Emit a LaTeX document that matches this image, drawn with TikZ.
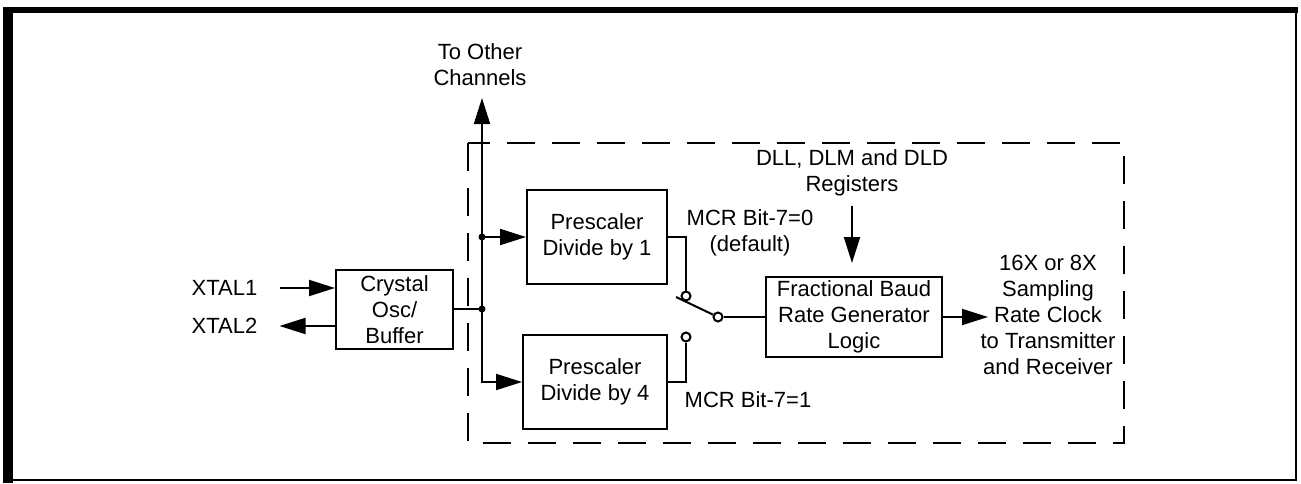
\documentclass[tikz,border=0pt]{standalone}
\usepackage{fontspec}
\setmainfont{Liberation Sans}
\usetikzlibrary{arrows.meta}
\begin{document}
\begin{tikzpicture}[x=1pt,y=-1pt,font=\fontsize{22}{26}\selectfont]
\tikzstyle{txt} = [align=center,inner sep=0pt];
\tikzstyle{blk} = [draw,line width=2pt,align=center,inner sep=0pt];
\tikzstyle{wire} = [line width=2pt];
\tikzstyle{sig} = [line width=2pt,-{Triangle[length=26pt,width=16pt]}];
\tikzstyle{contact} = [circle,draw,line width=2pt,fill=white,inner sep=0pt,minimum size=9pt];
\useasboundingbox (0,0) rectangle (1301,483);
% frame
\draw [line width=2pt] (8,10) rectangle (1296,480);
\draw [line width=10pt] (8,483) -- (8,7);
\draw [line width=6pt] (3,10) -- (1298,10);
\draw [line width=2pt,dash pattern=on 28pt off 17pt] (468,143) rectangle (1124,443);
% blocks
\node [blk,minimum width=117pt,minimum height=79pt] (osc) at (394.5,309.5) {Crystal\\Osc/\\Buffer};
\node [blk,minimum width=140pt,minimum height=94pt] (pre1) at (597,237) {Prescaler\\Divide by 1};
\node [blk,minimum width=144pt,minimum height=94pt] (pre4) at (595,382) {Prescaler\\Divide by 4};
\node [blk,minimum width=176pt,minimum height=80pt] (fbrg) at (854,317) {Fractional Baud\\Rate Generator\\Logic};
% labels
\node [txt] (x1) at (224.5,288) {XTAL1};
\node [txt] (x2) at (224.5,326) {XTAL2};
\node [txt] (oth) at (480,65) {To Other\\Channels};
\node [txt] (dll) at (852,173) {DLL, DLM and DLD\\Registers};
\node [txt] (m0) at (750,232.5) {MCR Bit-7=0\\(default)};
\node [txt] (m1) at (748,400) {MCR Bit-7=1};
\node [txt] (out) at (1048,315) {16X or 8X\\Sampling\\Rate Clock\\to Transmitter\\and Receiver};
% bus
\coordinate (j1) at (482,309);
\coordinate (j2) at (482,237);
\coordinate (top) at (482,98);
\coordinate (reg) at (852,263);
\coordinate (clk) at (988,317);
\coordinate (lev) at (676,297);
\node [contact] (s1) at (686,296) {};
\node [contact] (s2) at (686,337) {};
\node [contact] (sc) at (718,317) {};
\draw [sig] ([xshift=22pt]x1.east) -- (osc.west |- x1);
\draw [sig] (osc.west |- x2) -- ([xshift=22pt]x2.east);
\draw [wire] (osc.east |- j1) -- (j1);
\draw [sig] (j1) -- (top);
\draw [sig] (j2) -- (pre1.west |- j2);
\draw [sig] (j1) |- (pre4.west);
\fill (j1) circle (3.5pt);
\fill (j2) circle (3.5pt);
\draw [wire] (pre1.east) -| (s1);
\draw [wire] (pre4.east) -| (s2);
\draw [wire] (sc) -- (lev);
\draw [wire] (sc) -- (fbrg.west);
\draw [sig] ([yshift=-10pt]dll.south) -- (reg);
\draw [sig] (fbrg.east) -- (clk);
\end{tikzpicture}
\end{document}
